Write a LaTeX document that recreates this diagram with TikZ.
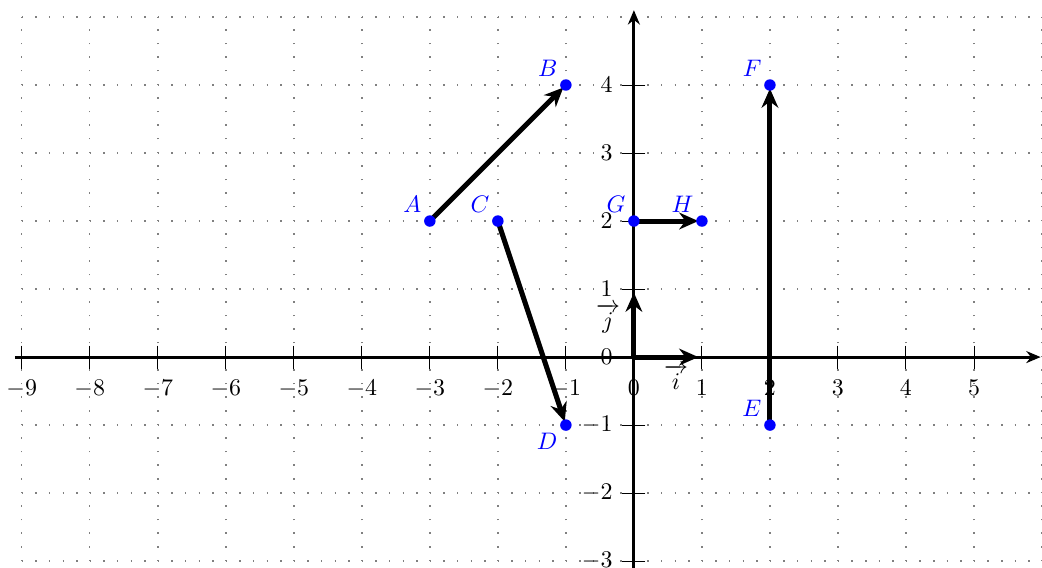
\documentclass[tikz,border=0pt]{standalone}
\usepackage{amsmath,amssymb,amsfonts}
\usetikzlibrary{arrows.meta}
\tikzset{
  grille/.style={gray,line width=0.6pt,dash pattern=on 0.6pt off 5.09pt},
  axe/.style={line width=1.2pt,-{Stealth[length=6pt,width=5pt]}},
  vecteur/.style={line width=2.1pt,-{Stealth[length=8pt,width=7pt]},shorten >=1.5pt},
  point/.style={blue},
  nom/.style={text=blue},
}

\begin{document}
\begin{tikzpicture}
\useasboundingbox (-9.32,-3.1) rectangle (6,5.25);
\begin{scope}
\clip (-9.32,-3.1) rectangle (6,5.25);
\draw[grille] (-9,-4) grid (6,5);
\draw[axe] (-9.1,0) -- (5.98,0);
\draw[axe] (0,-3.2) -- (0,5.1);
\foreach \x in {-9,...,5}
  \draw[line width=0.4pt] (\x,0.17) -- (\x,-0.17) node[below=0.04cm] {$\x$};
\foreach \y in {-3,...,4}
  \draw[line width=0.4pt] (0.17,\y) -- (-0.17,\y) node[left=0.02cm] {$\y$};
\end{scope}

\coordinate (O) at (0,0);
\coordinate (I) at (1,0);
\coordinate (J) at (0,1);
\coordinate (A) at (-3,2);
\coordinate (B) at (-1,4);
\coordinate (C) at (-2,2);
\coordinate (D) at (-1,-1);
\coordinate (E) at (2,-1);
\coordinate (F) at (2,4);
\coordinate (G) at (0,2);
\coordinate (H) at (1,2);

\draw[vecteur] (O) -- (I);
\draw[vecteur] (O) -- (J);
\draw[vecteur] (A) -- (B);
\draw[vecteur] (C) -- (D);
\draw[vecteur] (E) -- (F);
\draw[vecteur] (G) -- (H);
\node (vi) at (0.62,-0.3) {$\overrightarrow{i}$};
\node (vj) at (-0.38,0.57) {$\overrightarrow{j}$};

\foreach \p in {A,B,C,E,F,G,H}
  \fill[point] (\p) circle (2.4pt) node[nom,above left] {$\p$};
\fill[point] (D) circle (2.4pt) node[nom,below left] {$D$};
\end{tikzpicture}
\end{document}
